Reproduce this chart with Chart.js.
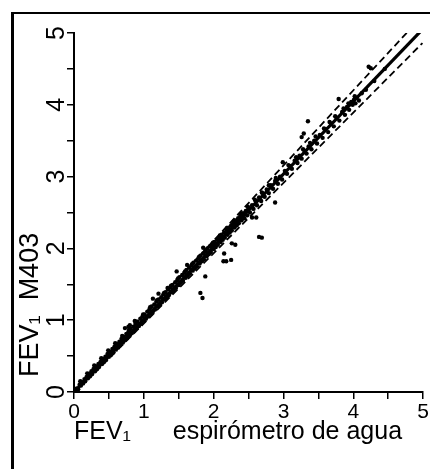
<!DOCTYPE html>
<html>
<head>
<meta charset="utf-8">
<script src="https://cdn.jsdelivr.net/npm/chart.js@4/dist/chart.umd.min.js"></script>
<style>
  html, body { margin: 0; padding: 0; background: #fff; }
  #wrap { position: relative; width: 430px; height: 469px; overflow: hidden; }
  #frame { position: absolute; left: 11px; top: 12px; width: 430px; height: 470px;
           border-left: 3px solid #000; border-top: 2px solid #000; pointer-events: none; }
  canvas { position: absolute; left: 0; top: 0; }
</style>
</head>
<body>
<div id="wrap">
  <canvas id="fevChart" width="430" height="469"></canvas>
  <div id="frame"></div>
</div>
<script>
// FEV1 measured with the water spirometer (x) and with the M403 (y), litres
const waterFEV1 = [
  0.04, 0.06, 0.08, 0.10, 0.11, 0.13, 0.15, 0.16, 0.18, 0.20, 0.21, 0.23, 0.25, 0.26, 0.28, 0.30,
  0.31, 0.33, 0.35, 0.36, 0.38, 0.40, 0.41, 0.43, 0.45, 0.46, 0.48, 0.50, 0.51, 0.53, 0.55, 0.56,
  0.58, 0.60, 0.61, 0.63, 0.65, 0.66, 0.68, 0.70, 0.71, 0.73, 0.75, 0.76, 0.78, 0.80, 0.81, 0.83,
  0.85, 0.86, 0.88, 0.90, 0.91, 0.93, 0.95, 0.96, 0.98, 1.00,
  0.73, 0.78, 0.87, 0.80,
  1.01, 1.03, 1.05, 1.06, 1.08, 1.10, 1.11, 1.13, 1.15, 1.16, 1.18, 1.20, 1.21, 1.23, 1.25, 1.26,
  1.28, 1.30, 1.31, 1.33, 1.35, 1.36, 1.38, 1.40, 1.41, 1.43, 1.45, 1.46, 1.48, 1.50, 1.51, 1.53,
  1.55, 1.56, 1.58, 1.60, 1.61, 1.63, 1.65, 1.66, 1.68, 1.70, 1.71, 1.73, 1.75, 1.76, 1.78, 1.80,
  1.81, 1.83, 1.85, 1.86, 1.88, 1.90, 1.91, 1.93, 1.95, 1.96, 1.98, 2.00,
  1.13, 1.21, 1.34, 1.47, 1.85, 1.81, 1.84, 1.88, 1.62,
  2.01, 2.03, 2.05, 2.06, 2.08, 2.10, 2.11, 2.13, 2.15, 2.16, 2.18, 2.20, 2.21, 2.23, 2.25, 2.26,
  2.28, 2.30, 2.31, 2.33, 2.35, 2.36, 2.38, 2.40, 2.42, 2.44, 2.46, 2.48, 2.50, 2.52, 2.55, 2.57,
  2.60, 2.62, 2.65, 2.68, 2.70, 2.73, 2.76, 2.79, 2.82, 2.85, 2.88, 2.92, 2.95, 2.98,
  2.15, 2.14, 2.18, 2.25, 2.31, 2.26, 2.55, 2.61, 2.65, 2.69, 2.88, 2.99,
  3.02, 3.05, 3.09, 3.12, 3.16, 3.20, 3.23, 3.26, 3.30, 3.33, 3.36, 3.40, 3.44, 3.48, 3.52, 3.56,
  3.60, 3.64, 3.68, 3.72, 3.76, 3.80, 3.84, 3.88, 3.91, 3.94, 3.97, 3.99, 4.01, 4.03, 4.05, 4.08,
  4.12, 4.18, 4.30, 4.45,
  3.35, 3.29, 3.26, 3.79, 4.25, 4.22,
  0.09, 0.19, 0.29, 0.39, 0.49, 0.59, 0.69, 0.79, 0.89, 0.99, 1.09, 1.19, 1.29, 1.39, 1.49, 1.59,
  1.69, 1.79, 1.89, 1.99, 2.09, 2.19, 2.29, 2.39, 2.49, 2.59, 2.69, 2.79, 2.89, 3.07, 3.18, 3.28,
  3.38, 3.46, 3.58, 3.66, 3.74, 3.86, 3.93, 4.02
];
const m403FEV1 = [
  0.05, 0.04, 0.10, 0.09, 0.14, 0.12, 0.18, 0.15, 0.21, 0.19, 0.25, 0.22, 0.29, 0.25, 0.32, 0.29,
  0.36, 0.32, 0.39, 0.35, 0.42, 0.39, 0.46, 0.42, 0.49, 0.45, 0.53, 0.49, 0.56, 0.52, 0.60, 0.55,
  0.63, 0.59, 0.67, 0.62, 0.70, 0.65, 0.74, 0.69, 0.77, 0.72, 0.81, 0.75, 0.84, 0.79, 0.88, 0.82,
  0.91, 0.85, 0.95, 0.89, 0.98, 0.92, 1.02, 0.95, 1.05, 0.99,
  0.89, 0.91, 0.99, 0.93,
  1.08, 1.02, 1.12, 1.05, 1.15, 1.09, 1.19, 1.12, 1.22, 1.15, 1.26, 1.19, 1.29, 1.22, 1.32, 1.25,
  1.36, 1.29, 1.39, 1.32, 1.43, 1.35, 1.46, 1.39, 1.49, 1.42, 1.53, 1.45, 1.56, 1.49, 1.60, 1.52,
  1.63, 1.55, 1.66, 1.59, 1.70, 1.62, 1.73, 1.65, 1.76, 1.69, 1.80, 1.72, 1.83, 1.75, 1.86, 1.79,
  1.90, 1.82, 1.93, 1.85, 1.96, 1.89, 2.00, 1.92, 2.03, 1.95, 2.06, 1.99,
  1.30, 1.37, 1.45, 1.68, 2.01, 1.38, 1.31, 1.61, 1.77,
  2.09, 2.02, 2.12, 2.05, 2.15, 2.09, 2.19, 2.12, 2.22, 2.15, 2.26, 2.19, 2.29, 2.22, 2.32, 2.25,
  2.35, 2.29, 2.39, 2.32, 2.42, 2.35, 2.45, 2.39, 2.49, 2.42, 2.52, 2.46, 2.56, 2.50, 2.60, 2.55,
  2.66, 2.60, 2.71, 2.66, 2.77, 2.72, 2.82, 2.77, 2.88, 2.83, 2.94, 2.90, 3.00, 2.96,
  1.93, 1.82, 1.82, 1.84, 2.05, 2.07, 2.43, 2.43, 2.16, 2.15, 2.64, 3.20,
  3.08, 3.04, 3.15, 3.11, 3.22, 3.19, 3.29, 3.25, 3.36, 3.32, 3.42, 3.38, 3.50, 3.46, 3.58, 3.54,
  3.66, 3.62, 3.74, 3.70, 3.82, 3.78, 3.90, 3.86, 3.97, 3.93, 4.04, 4.00, 4.07, 4.02, 4.10, 4.06,
  4.16, 4.21, 4.33, 4.50,
  3.77, 3.60, 3.55, 4.08, 4.51, 4.53,
  0.15, 0.26, 0.37, 0.47, 0.58, 0.68, 0.78, 0.87, 0.98, 1.08, 1.18, 1.28, 1.38, 1.48, 1.58, 1.68,
  1.78, 1.88, 1.98, 2.08, 2.18, 2.28, 2.38, 2.48, 2.58, 2.68, 2.78, 2.88, 2.98, 3.16, 3.27, 3.38,
  3.47, 3.56, 3.67, 3.76, 3.84, 3.95, 4.02, 4.12
];

// regression line and the two agreement limits (end points)
const fitLineX = [0, 4.97];
const fitLineY = [0, 5.03];
const upperLimitX = [0.3, 4.83];
const upperLimitY = [0.33, 5.07];
const lowerLimitX = [0.3, 4.99];
const lowerLimitY = [0.27, 4.86];

const xTickLabels = ['0', '1', '2', '3', '4', '5'];
const yTickLabels = ['0', '1', '2', '3', '4', '5'];

const FONT = '"Liberation Sans", Arial, Helvetica, sans-serif';

const toPoints = (xs, ys) => xs.map((x, i) => ({ x: x, y: ys[i] }));
const intLabel = (labels) => (v) => (Number.isInteger(v) ? labels[v] : '');

const ctx = document.getElementById('fevChart').getContext('2d');
new Chart(ctx, {
  type: 'scatter',
  data: {
    datasets: [
      {
        data: toPoints(waterFEV1, m403FEV1),
        backgroundColor: '#000',
        borderWidth: 0,
        pointRadius: 2.2,
        order: 3,
      },
      {
        data: toPoints(fitLineX, fitLineY),
        showLine: true,
        borderColor: '#000',
        borderWidth: 3.2,
        pointRadius: 0,
        order: 1,
      },
      {
        data: toPoints(upperLimitX, upperLimitY),
        showLine: true,
        borderColor: '#000',
        borderWidth: 1.8,
        borderDash: [7, 4],
        pointRadius: 0,
        order: 2,
      },
      {
        data: toPoints(lowerLimitX, lowerLimitY),
        showLine: true,
        borderColor: '#000',
        borderWidth: 1.8,
        borderDash: [7, 4],
        pointRadius: 0,
        order: 2,
      },
    ],
  },
  options: {
    responsive: false,
    animation: false,
    devicePixelRatio: 1,
    layout: { padding: { left: 0, top: 33, right: 5, bottom: 0 } },
    plugins: {
      legend: { display: false },
      tooltip: { enabled: false },
    },
    scales: {
      x: {
        type: 'linear',
        min: 0,
        max: 5,
        afterFit: (s) => { s.height = 77; },
        border: { color: '#000', width: 2 },
        grid: { drawOnChartArea: false, drawTicks: true, tickLength: 7, color: '#000', lineWidth: 1.5 },
        ticks: {
          stepSize: 0.5,
          autoSkip: false,
          maxRotation: 0,
          padding: 1,
          color: '#000',
          font: { family: FONT, size: 21 },
          callback: intLabel(xTickLabels),
        },
        title: {
          display: true,
          text: 'FEV\u2081      espirómetro de agua',
          align: 'start',
          color: '#000',
          font: { family: FONT, size: 25 },
          padding: { top: 0, bottom: 22 },
        },
      },
      y: {
        type: 'linear',
        min: 0,
        max: 5,
        afterFit: (s) => { s.width = 74; },
        border: { color: '#000', width: 2 },
        grid: { drawOnChartArea: false, drawTicks: true, tickLength: 7, color: '#000', lineWidth: 1.5 },
        ticks: {
          stepSize: 0.5,
          autoSkip: false,
          minRotation: 90,
          maxRotation: 90,
          crossAlign: 'center',
          padding: 3,
          color: '#000',
          font: { family: FONT, size: 25 },
          callback: intLabel(yTickLabels),
        },
        title: {
          display: true,
          text: '  FEV\u2081  M403',
          align: 'start',
          color: '#000',
          font: { family: FONT, size: 27 },
          padding: { top: 14, bottom: 0 },
        },
      },
    },
  },
});
</script>
</body>
</html>
